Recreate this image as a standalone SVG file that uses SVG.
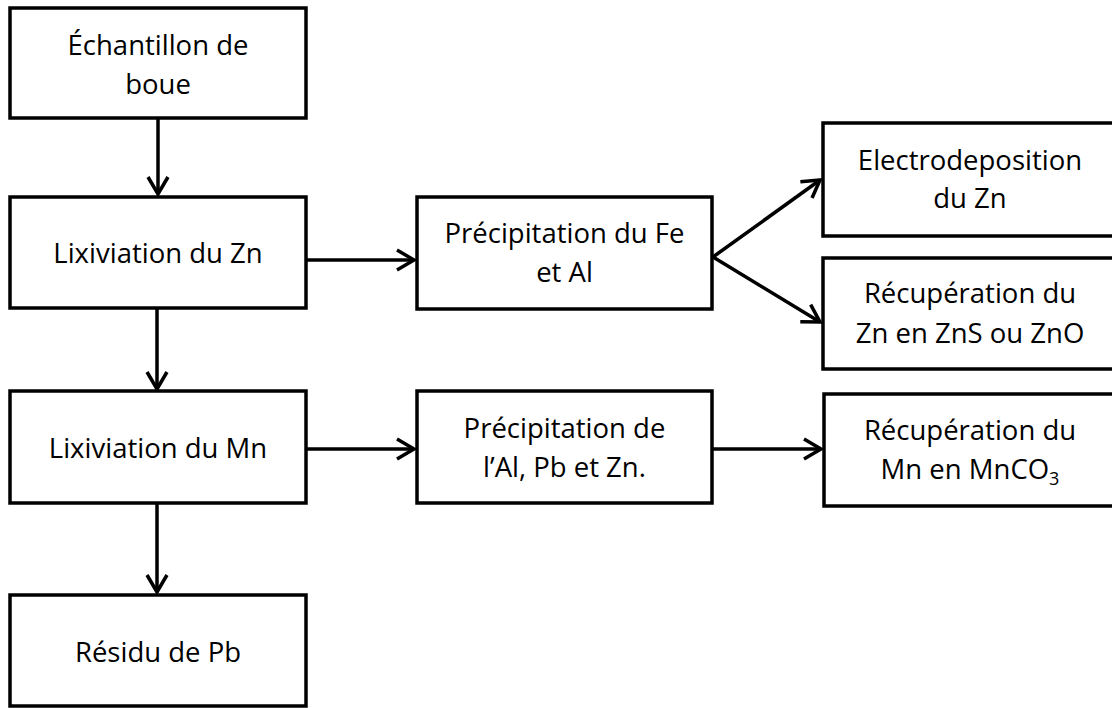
<svg xmlns="http://www.w3.org/2000/svg" width="1112" height="708" viewBox="0 0 1112 708">
<style>
.box{fill:#fff;stroke:#000;stroke-width:3.5}
.t{font-family:"Open Sans","Noto Sans",sans-serif;font-size:27.5px;fill:#000;text-anchor:middle}
.c{fill:none;stroke:#000;stroke-width:3.5}
</style>
<defs>
<marker id="ah" viewBox="-20 -12 24 24" refX="0" refY="0" markerWidth="24" markerHeight="24" markerUnits="userSpaceOnUse" orient="auto">
<path d="M-17,-10 L0,0 L-17,10" fill="none" stroke="#000" stroke-width="3.5" stroke-linejoin="miter"/>
</marker>
</defs>
<rect width="1112" height="708" fill="#fff"/>
<g id="connectors">
<line class="c" x1="158" y1="118" x2="158" y2="194" marker-end="url(#ah)"/>
<line class="c" x1="157" y1="308" x2="157" y2="389" marker-end="url(#ah)"/>
<line class="c" x1="157" y1="503" x2="157" y2="592" marker-end="url(#ah)"/>
<line class="c" x1="306" y1="260" x2="414" y2="260" marker-end="url(#ah)"/>
<line class="c" x1="306" y1="449" x2="414" y2="449" marker-end="url(#ah)"/>
<line class="c" x1="712" y1="449" x2="821" y2="449" marker-end="url(#ah)"/>
<line class="c" x1="713" y1="257" x2="820" y2="180" marker-end="url(#ah)"/>
<line class="c" x1="713" y1="257" x2="820" y2="322" marker-end="url(#ah)"/>
</g>
<g id="n1"><rect class="box" x="10" y="8" width="296" height="110"/><text class="t" x="158" y="55">Échantillon de</text><text class="t" x="158" y="94">boue</text></g>
<g id="n2"><rect class="box" x="10" y="197" width="296" height="111"/><text class="t" x="158" y="263">Lixiviation du Zn</text></g>
<g id="n3"><rect class="box" x="10" y="391" width="296" height="112"/><text class="t" x="158" y="458">Lixiviation du Mn</text></g>
<g id="n4"><rect class="box" x="10" y="595" width="296" height="111"/><text class="t" x="158" y="662">Résidu de Pb</text></g>
<g id="n5"><rect class="box" x="417" y="197" width="295" height="112"/><text class="t" x="564.5" y="243">Précipitation du Fe</text><text class="t" x="564.5" y="282">et Al</text></g>
<g id="n6"><rect class="box" x="823" y="123" width="295" height="113"/><text class="t" x="970" y="170">Electrodeposition</text><text class="t" x="970" y="208">du Zn</text></g>
<g id="n7"><rect class="box" x="823" y="258" width="295" height="111"/><text class="t" x="970" y="303">Récupération du</text><text class="t" x="970" y="343">Zn en ZnS ou ZnO</text></g>
<g id="n8"><rect class="box" x="417" y="391" width="295" height="112"/><text class="t" x="564.5" y="438">Précipitation de</text><text class="t" x="564.5" y="477">l’Al, Pb et Zn.</text></g>
<g id="n9"><rect class="box" x="824" y="394" width="295" height="112"/><text class="t" x="970" y="440">Récupération du</text><text class="t" x="970" y="479">Mn en MnCO<tspan font-size="18" dy="6">3</tspan></text></g>
</svg>
